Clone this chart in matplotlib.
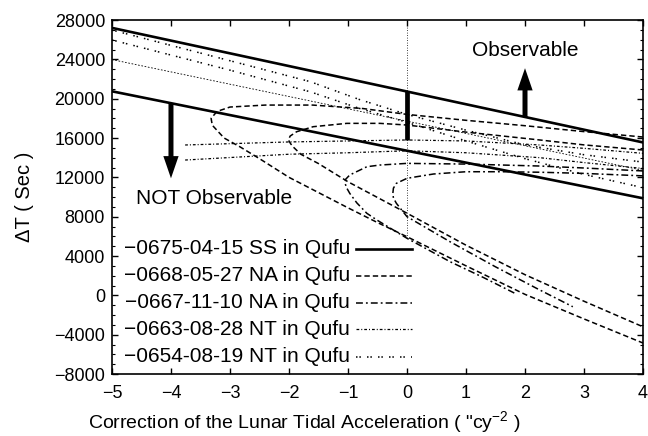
import matplotlib
matplotlib.use("Agg")
import matplotlib.pyplot as plt
from matplotlib.lines import Line2D
from matplotlib.ticker import MultipleLocator
import numpy as np

plt.rcParams['font.family'] = ['Liberation Sans', 'DejaVu Sans']
plt.rcParams['mathtext.fontset'] = 'custom'
plt.rcParams['mathtext.rm'] = 'Liberation Sans'
plt.rcParams['mathtext.it'] = 'Liberation Sans:italic'

# ---- data: Delta T limits versus lunar tidal acceleration correction ----
# -0675-04-15 SS: upper / lower observability limits (straight lines)
ss_x = [-5.0, 4.0]
ss_upper = [27200, 15550]
ss_lower = [20750, 9870]

# -0668-05-27 NA: two looped limit curves
na68_a_x = [4.0, 3.0, 2.0, 1.0, 0.0, -0.75, -1.6, -2.4, -3.0, -3.22, -3.32, -3.3,
            -3.1, -2.83, -2.5, -2.0, -1.5, -1.0, -0.5, 0.0, 1.0, 2.0, 3.0, 4.0]
na68_a_y = [16100, 16650, 17250, 17800, 18400, 19000, 19350, 19350, 19150, 18700, 18000, 17300,
            16000, 15100, 13900, 12000, 10450, 8900, 7400, 5960, 3000, 100, -2400, -4850]
na68_b_x = [4.0, 3.0, 2.25, 1.0, 0.0, -0.46, -1.02, -1.59, -1.87, -1.98, -2.01, -1.97,
            -1.93, -1.8, -1.5, -1.0, -0.5, 0.0, 1.0, 2.0, 3.0, 4.0]
na68_b_y = [14780, 15300, 15800, 16600, 17320, 17490, 17490, 17150, 16640, 16200, 15800, 15400,
            15100, 14350, 13400, 11550, 9950, 8350, 5100, 2100, -600, -3200]

# -0667-11-10 NA: two looped limit curves
na67_a_x = [4.0, 3.0, 2.25, 1.0, 0.0, -0.46, -0.68, -0.97, -1.04, -1.05, -1.02, -0.97,
            -0.85, -0.68, -0.51, 0.0, 0.73, 1.3, 1.83]
na67_a_y = [12650, 12950, 13150, 13350, 13420, 13250, 13080, 12240, 11800, 11390, 10900, 10370,
            9400, 8340, 7660, 5800, 3420, 1800, 200]
na67_b_x = [4.0, 3.0, 2.25, 1.58, 1.0, 0.45, 0.16, 0.0, -0.18, -0.23, -0.24, -0.23,
            -0.18, -0.08, 0.0, 0.73, 1.5, 2.2, 2.81]
na67_b_y = [12150, 12400, 12520, 12570, 12570, 12340, 12060, 11900, 11390, 10900, 10370, 9900,
            9360, 8600, 8000, 5450, 2900, 700, -1160]

# -0663-08-28 NT: two limit curves
nt63_x = [-3.76, -2.0, -1.0, 0.0, 1.0, 2.25, 3.0, 4.0]
nt63_a_y = [15290, 15600, 15700, 15800, 15700, 15290, 14950, 14440]
nt63_b_y = [13760, 14350, 14500, 14700, 14500, 14000, 13500, 12900]

# -0654-08-19 NT: two limit curves
nt54_x = [-5.0, -3.0, -1.64, -0.8, 0.0, 1.0, 2.0, 3.0, 4.0]
nt54_a_y = [26980, 23860, 21730, 19900, 18400, 16800, 15300, 14300, 13550]
nt54_b_y = [25970, 22900, 20700, 19000, 17600, 15700, 13900, 12300, 10950]

# reference markers at zero correction
zero_ref_span = [5800, 28000]
zero_bar_span = [15800, 20730]
obs_arrow_x, obs_arrow_top = 2.0, 23100
notobs_arrow_x, notobs_arrow_bottom = -4.0, 11900

labels = ['\u22120675-04-15 SS in Qufu', '\u22120668-05-27 NA in Qufu',
          '\u22120667-11-10 NA in Qufu', '\u22120663-08-28 NT in Qufu',
          '\u22120654-08-19 NT in Qufu']

xticks = [-5, -4, -3, -2, -1, 0, 1, 2, 3, 4]
yticks = list(range(-8000, 28001, 4000))

# ---- styles ----
st_ss = dict(color='black', lw=1.9, linestyle='-')
st_na68 = dict(color='black', lw=1.1, linestyle=(0, (3.5, 2.0)))
st_na67 = dict(color='black', lw=1.1, linestyle=(0, (4.5, 2.0, 1.2, 2.0)))
st_nt63 = dict(color='black', lw=0.9, linestyle=(0, (2.2, 1.6, 0.8, 1.6)))
st_nt54 = dict(color='black', lw=1.1, linestyle=(0, (1.0, 1.2, 1.0, 4.0)))
styles = [st_ss, st_na68, st_na67, st_nt63, st_nt54]

fig = plt.figure(figsize=(6.48, 4.36), dpi=100)
ax = fig.add_axes([0.1728, 0.1422, 0.8195, 0.8119])

# SS band and its mid line
ax.plot(ss_x, ss_upper, **st_ss)
ax.plot(ss_x, ss_lower, **st_ss)
ss_mid = [(a + b) / 2 for a, b in zip(ss_upper, ss_lower)]
ax.plot(ss_x, ss_mid, color='black', lw=0.6, linestyle=(0, (2.0, 2.0)))

ax.plot(na68_a_x, na68_a_y, **st_na68)
ax.plot(na68_b_x, na68_b_y, **st_na68)
ax.plot(na67_a_x, na67_a_y, **st_na67)
ax.plot(na67_b_x, na67_b_y, **st_na67)
ax.plot(nt63_x, nt63_a_y, **st_nt63)
ax.plot(nt63_x, nt63_b_y, **st_nt63)
ax.plot(nt54_x, nt54_a_y, **st_nt54)
ax.plot(nt54_x, nt54_b_y, **st_nt54)

# zero-correction reference line and range bar
ax.plot([0, 0], zero_ref_span, color='black', lw=0.6, linestyle=(0, (1.0, 2.0)))
ax.plot([0, 0], zero_bar_span, color='black', lw=3.4, solid_capstyle='butt')

# arrows starting on the SS limit lines
def ss_value(xv, yvals):
    return np.interp(xv, ss_x, yvals)

arrow_style = 'simple,head_length=0.8,head_width=0.55,tail_width=0.18'
ax.annotate('', xy=(obs_arrow_x, obs_arrow_top),
            xytext=(obs_arrow_x, ss_value(obs_arrow_x, ss_upper)),
            arrowprops=dict(arrowstyle=arrow_style, color='black', lw=0,
                            mutation_scale=20, shrinkA=0, shrinkB=0))
ax.annotate('', xy=(notobs_arrow_x, notobs_arrow_bottom),
            xytext=(notobs_arrow_x, ss_value(notobs_arrow_x, ss_lower)),
            arrowprops=dict(arrowstyle=arrow_style, color='black', lw=0,
                            mutation_scale=20, shrinkA=0, shrinkB=0))
ax.text(2.0, 24950, 'Observable', ha='center', va='center', fontsize=15)
ax.text(-3.27, 9870, 'NOT Observable', ha='center', va='center', fontsize=15)

# key drawn in the lower left, labels right-aligned before their samples
key_y = [0.354, 0.277, 0.201, 0.126, 0.049]
for lab, st, ky in zip(labels, styles, key_y):
    ax.text(0.448, ky, lab, transform=ax.transAxes, ha='right', va='center',
            fontsize=15)
    ax.add_line(Line2D([0.4595, 0.565], [ky, ky], transform=ax.transAxes, **st))

ax.set_xlim(-5, 4)
ax.set_ylim(-8000, 28000)
ax.set_xticks(xticks)
ax.set_yticks(yticks)
ax.yaxis.set_minor_locator(MultipleLocator(1000))
ax.tick_params(which='both', direction='in', top=True, right=True, labelsize=13)
ax.tick_params(which='major', length=4.5, width=1.0)
ax.tick_params(axis='x', which='major', pad=8)
ax.tick_params(axis='y', which='major', pad=5)
ax.tick_params(which='minor', length=2.5, width=0.8)
for s in ax.spines.values():
    s.set_linewidth(1.2)

ax.set_xlabel('Correction of the Lunar Tidal Acceleration ( "cy$^{\\mathregular{-2}}$ )',
              fontsize=14)
ax.xaxis.set_label_coords(0.362, -0.137, transform=ax.transAxes)
ax.xaxis.label.set_va('center')
ax.set_ylabel('\u0394T ( Sec )', fontsize=14.5)
ax.yaxis.set_label_coords(-0.165, 0.5, transform=ax.transAxes)
ax.yaxis.label.set_va('center')

fig.savefig('out.png', dpi=100)
